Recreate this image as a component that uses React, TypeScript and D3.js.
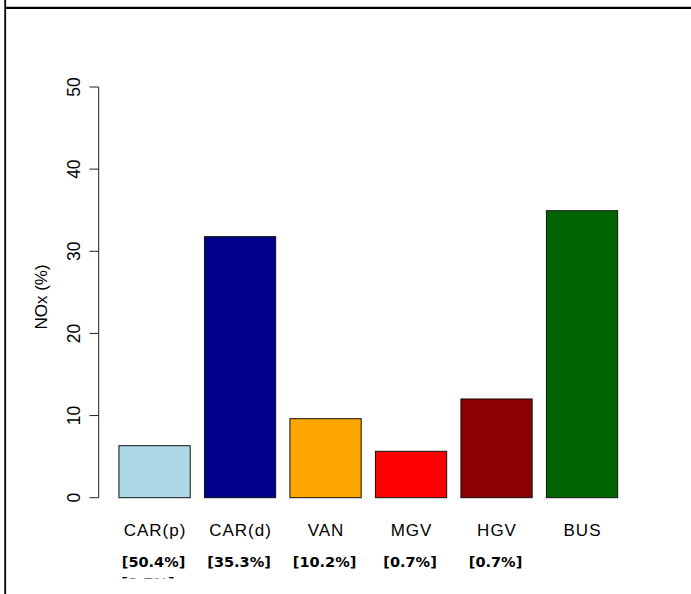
import React from 'react';
import * as d3 from 'd3';

const categories = ['CAR(p)', 'CAR(d)', 'VAN', 'MGV', 'HGV', 'BUS'];
const noxShare = [6.33, 31.78, 9.62, 5.65, 12.02, 34.94];
const barColors = ['#ADD8E6', '#00008B', '#FFA500', '#FF0000', '#8B0000', '#006400'];
const fleetShare = ['[50.4%]', '[35.3%]', '[10.2%]', '[0.7%]', '[0.7%]'];
const overflowLabel = '[2.7%]';
const yTicks = [0, 10, 20, 30, 40, 50];

const width = 691;
const height = 594;

const App: React.FC = () => {
  // R barplot units: width 1, space 0.2, 4% padding on the x range
  const x = d3.scaleLinear().domain([-0.08, 7.48]).range([99, 637.6]);
  const y = d3.scaleLinear().domain([0, 50]).range([497.7, 87]);
  const barLeft = (i: number) => 0.2 + 1.2 * i;
  const sans = 'Liberation Sans, Arial, sans-serif';

  return (
    <svg
      width={width}
      height={height}
      style={{ position: 'absolute', left: 0, top: 0, background: '#fff' }}
    >
      <defs>
        <clipPath id="fig">
          <rect x={0} y={0} width={width} height={578.5} />
        </clipPath>
      </defs>

      {/* frame */}
      <line x1={5.2} x2={5.2} y1={0} y2={height} stroke="#000" strokeWidth={1.8} />
      <line x1={5.2} x2={width} y1={7.8} y2={7.8} stroke="#000" strokeWidth={2.3} />

      {/* bars */}
      {noxShare.map((v, i) => (
        <rect
          key={categories[i]}
          x={x(barLeft(i))}
          y={y(v)}
          width={x(barLeft(i) + 1) - x(barLeft(i))}
          height={y(0) - y(v)}
          fill={barColors[i]}
          stroke="#111"
          strokeWidth={1}
        />
      ))}

      {/* y axis */}
      <line x1={98.7} x2={98.7} y1={y(0)} y2={y(50)} stroke="#222" strokeWidth={1} />
      {yTicks.map(t => (
        <g key={t}>
          <line x1={89.5} x2={98.7} y1={y(t)} y2={y(t)} stroke="#222" strokeWidth={1} />
          <text
            transform={`translate(80,${y(t)}) rotate(-90)`}
            textAnchor="middle"
            fontFamily={sans}
            fontSize={17.5}
          >
            {t}
          </text>
        </g>
      ))}
      <text
        transform="translate(47,297) rotate(-90)"
        textAnchor="middle"
        fontFamily={sans}
        fontSize={17}
      >
        NOx (%)
      </text>

      {/* category labels */}
      {categories.map((c, i) => (
        <text
          key={c}
          x={x(barLeft(i) + 0.5) + 0.5}
          y={536}
          textAnchor="middle"
          fontFamily={sans}
          fontSize={17}
          letterSpacing={1}
        >
          {c}
        </text>
      ))}

      {/* fleet share labels */}
      <g clipPath="url(#fig)">
        {fleetShare.map((s, i) => (
          <text
            key={i}
            x={x(barLeft(i) + 0.5) - 1}
            y={566.7}
            textAnchor="middle"
            fontFamily="DejaVu Sans, sans-serif"
            fontWeight="bold"
            fontSize={14.5}
          >
            {s}
          </text>
        ))}
        <text
          x={148}
          y={587.6}
          textAnchor="middle"
          fontFamily="DejaVu Sans, sans-serif"
          fontWeight="bold"
          fontSize={14.5}
        >
          {overflowLabel}
        </text>
      </g>
    </svg>
  );
};

export default App;
